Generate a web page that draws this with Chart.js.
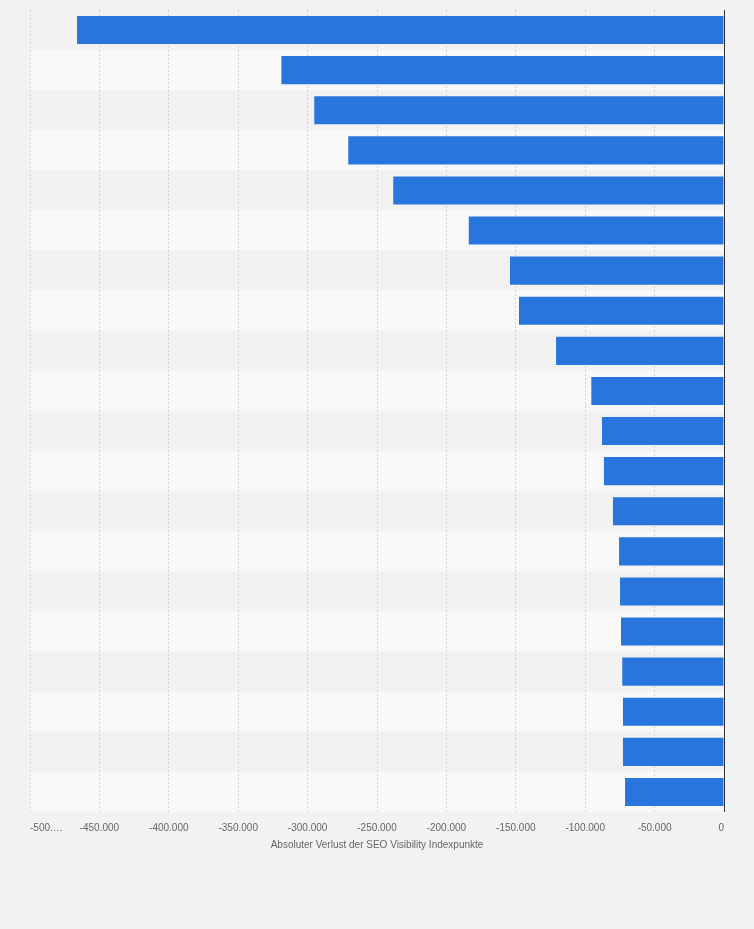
<!DOCTYPE html>
<html>
<head>
<meta charset="utf-8">
<script src="https://cdn.jsdelivr.net/npm/chart.js@4/dist/chart.umd.min.js"></script>
<style>
  html, body { margin: 0; padding: 0; background: #f2f2f2; }
  #wrap { width: 754px; height: 929px; }
</style>
</head>
<body>
<div id="wrap"><canvas id="c" width="754" height="929"></canvas></div>
<script>
const categories = ['1', '2', '3', '4', '5', '6', '7', '8', '9', '10',
                    '11', '12', '13', '14', '15', '16', '17', '18', '19', '20'];
const lossValues = [-466100, -318900, -295200, -270700, -238300, -183900, -154200, -147700, -121000, -95600,
                    -87900, -86500, -80000, -75600, -74900, -74200, -73300, -72800, -72800, -71300];
const tickValues = [-500000, -450000, -400000, -350000, -300000, -250000, -200000, -150000, -100000, -50000, 0];
const tickLabels = ['-500.…', '-450.000', '-400.000', '-350.000', '-300.000', '-250.000',
                    '-200.000', '-150.000', '-100.000', '-50.000', '0'];
const axisTitle = 'Absoluter Verlust der SEO Visibility Indexpunkte';

const FONT = '"Liberation Sans", Arial, Helvetica, sans-serif';

const bandsPlugin = {
  id: 'bands',
  beforeDraw(chart) {
    const { ctx, chartArea, scales } = chart;
    ctx.save();
    ctx.fillStyle = '#f2f2f2';
    ctx.fillRect(0, 0, chart.width, chart.height);
    const y = scales.y;
    const n = categories.length;
    const h = (chartArea.bottom - chartArea.top) / n;
    for (let i = 0; i < n; i++) {
      if (i % 2 === 1) {
        const cy = y.getPixelForValue(i);
        ctx.fillStyle = '#f8f8f8';
        ctx.fillRect(chartArea.left, cy - h / 2, chartArea.right - chartArea.left, h);
      }
    }
    ctx.restore();
  },
  afterDatasetsDraw(chart) {
    const { ctx, chartArea, scales } = chart;
    const x0 = Math.round(scales.x.getPixelForValue(0)) + 0.5;
    ctx.save();
    ctx.strokeStyle = '#333333';
    ctx.lineWidth = 1;
    ctx.beginPath();
    ctx.moveTo(x0, chartArea.top);
    ctx.lineTo(x0, chartArea.bottom);
    ctx.stroke();
    ctx.restore();
  }
};

new Chart(document.getElementById('c'), {
  type: 'bar',
  data: {
    labels: categories,
    datasets: [{
      data: lossValues,
      backgroundColor: '#2876dd',
      borderWidth: 0,
      categoryPercentage: 1.0,
      barPercentage: 0.7
    }]
  },
  options: {
    indexAxis: 'y',
    responsive: false,
    animation: false,
    devicePixelRatio: 1,
    layout: { padding: { left: 30, right: 30, top: 10, bottom: 74 } },
    plugins: {
      legend: { display: false },
      tooltip: { enabled: false }
    },
    scales: {
      y: {
        display: false
      },
      x: {
        min: -500000,
        max: 0,
        afterBuildTicks(scale) {
          scale.ticks = tickValues.map(v => ({ value: v }));
        },
        afterFit(scale) {
          scale.height = 43;
        },
        ticks: {
          align: 'inner',
          maxRotation: 0,
          autoSkip: false,
          padding: 10,
          color: '#666666',
          font: { family: FONT, size: 10 },
          callback: (v) => {
            const i = tickValues.indexOf(v);
            return i >= 0 ? tickLabels[i] : '';
          }
        },
        grid: {
          display: true,
          drawTicks: false,
          color: (ctx) => ctx.tick && ctx.tick.value === 0 ? 'rgba(0,0,0,0)' : '#d4d4d4',
          lineWidth: 1
        },
        border: { display: false, dash: [2, 2] },
        title: {
          display: true,
          text: axisTitle,
          color: '#666666',
          font: { family: FONT, size: 10 },
          padding: { top: 7, bottom: 4 }
        }
      }
    }
  },
  plugins: [bandsPlugin]
});
</script>
</body>
</html>
